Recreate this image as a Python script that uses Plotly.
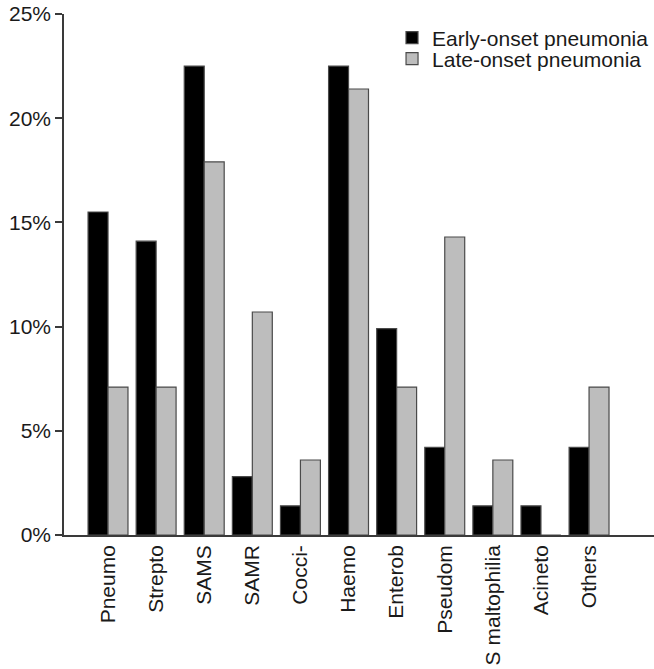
import plotly.graph_objects as go

# Pathogen categories and their share of isolates (%) per pneumonia type
categories = ["Pneumo", "Strepto", "SAMS", "SAMR", "Cocci-", "Haemo",
              "Enterob", "Pseudom", "S maltophilia", "Acineto", "Others"]
early_onset = [15.5, 14.1, 22.5, 2.8, 1.4, 22.5, 9.9, 4.2, 1.4, 1.4, 4.2]
late_onset = [7.1, 7.1, 17.9, 10.7, 3.6, 21.4, 7.1, 14.3, 3.6, 0.0, 7.1]
y_ticks = [0, 5, 10, 15, 20, 25]
y_tick_labels = [f"{v}%" for v in y_ticks]

FONT = "Liberation Sans, Arial, Helvetica, sans-serif"
EDGE = "#4a4a4a"
TEXT = "#1a1a1a"

fig = go.Figure()
fig.add_trace(go.Bar(
    x=categories, y=early_onset, name="Early-onset pneumonia",
    marker=dict(color="#000000", line=dict(color=EDGE, width=1.2)),
    legend="legend",
))
fig.add_trace(go.Bar(
    x=categories, y=late_onset, name="Late-onset pneumonia",
    marker=dict(color="#bdbdbd", line=dict(color=EDGE, width=1.2)),
    legend="legend2",
))

legend_style = dict(
    font=dict(family=FONT, size=21, color=TEXT),
    bgcolor="rgba(0,0,0,0)", borderwidth=0,
    xanchor="left", yanchor="middle",
    itemclick=False, itemdoubleclick=False,
)

fig.update_layout(
    width=654, height=669,
    margin=dict(l=64, r=0, t=14, b=134),
    paper_bgcolor="white", plot_bgcolor="white",
    barmode="group", bargap=0.17, bargroupgap=0.0,
    showlegend=True,
    font=dict(family=FONT, size=21, color=TEXT),
    legend=dict(x=0.556, y=(669 - 38 - 134) / 521, **legend_style),
    legend2=dict(x=0.556, y=(669 - 59 - 134) / 521, **legend_style),
    xaxis=dict(
        type="category",
        range=[-0.915, 11.35],
        showline=True, linecolor="#3a3a3a", linewidth=1.5,
        ticks="", tickangle=-90,
        tickfont=dict(family=FONT, size=21, color=TEXT),
        showgrid=False, zeroline=False,
    ),
    yaxis=dict(
        range=[0, 25],
        tickmode="array", tickvals=y_ticks, ticktext=y_tick_labels,
        showline=True, linecolor="#3a3a3a", linewidth=1.5,
        ticks="outside", ticklen=7, tickwidth=1.5, tickcolor="#3a3a3a",
        tickfont=dict(family=FONT, size=21, color=TEXT),
        showgrid=False, zeroline=False,
    ),
)

fig.write_html("out.html")
